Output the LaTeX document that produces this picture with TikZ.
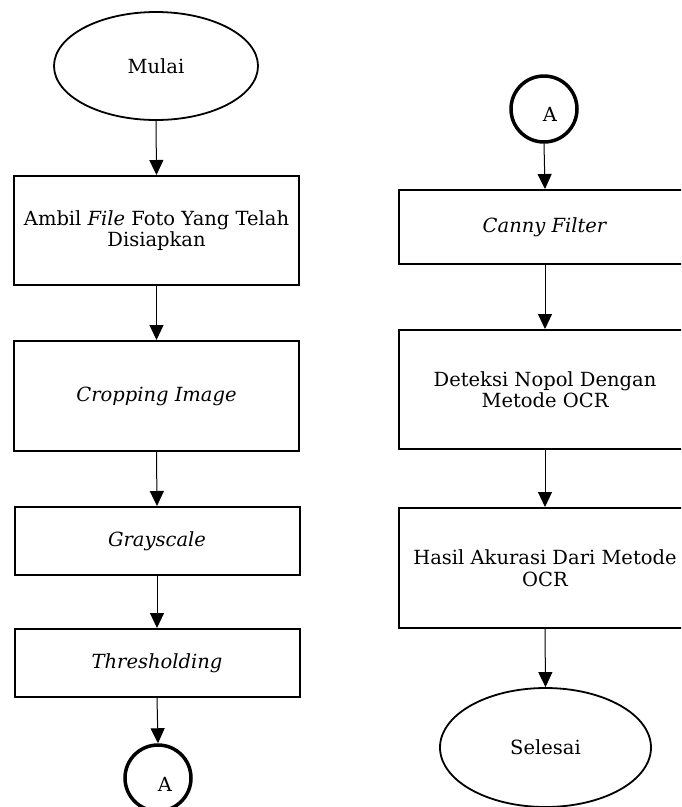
\documentclass[tikz,border=0pt]{standalone}
\usepackage{fontspec}
\setmainfont{DejaVu Serif}
\usetikzlibrary{arrows.meta,shapes.geometric}
\begin{document}
\begin{tikzpicture}[x=1pt,y=-1pt,
  every node/.style={font=\fontsize{19.5}{21.5}\selectfont, align=center},
  term/.style={draw, ellipse, line width=1.8pt, inner sep=0pt},
  proc/.style={draw, rectangle, line width=2pt, inner sep=0pt},
  conn/.style={draw, circle, line width=3.5pt, minimum size=66pt, inner sep=0pt},
  flow/.style={-{Triangle[length=15pt,width=14pt]}, line width=1pt}]
\useasboundingbox (0,0) rectangle (681,807);
\clip (0,0) rectangle (681,807);
% left column
\node[term, minimum width=204pt, minimum height=108pt] (mulai) at (156,66) {Mulai};
\node[proc, minimum width=285pt, minimum height=109pt] (b1) at (156.5,230.5) {Ambil \textit{File} Foto Yang Telah\\Disiapkan};
\node[proc, minimum width=285pt, minimum height=110pt] (b2) at (156.5,396) {\textit{Cropping Image}};
\node[proc, minimum width=285pt, minimum height=68pt] (b3) at (157,541) {\textit{Grayscale}};
\node[proc, minimum width=285pt, minimum height=68pt] (b4) at (157,663) {\textit{Thresholding}};
\node[conn] (a1) at (158,778) {};
\node (a1t) at (165,784) {A};
% right column
\node[conn] (a2) at (544,109) {};
\node (a2t) at (550,114) {A};
\node[proc, minimum width=292pt, minimum height=74pt] (c1) at (545,227) {\textit{Canny Filter}};
\node[proc, minimum width=292pt, minimum height=119pt] (c2) at (545,389.5) {Deteksi Nopol Dengan\\Metode OCR};
\node[proc, minimum width=292pt, minimum height=120pt] (c3) at (545,568) {Hasil Akurasi Dari Metode\\OCR};
\node[term, minimum width=211pt, minimum height=119pt] (sel) at (545.5,747.5) {Selesai};
% connectors
\draw[flow] (mulai.south) -- (b1.north);
\draw[flow] (b1.south) -- (b2.north);
\draw[flow] (b2.south) -- (b3.north);
\draw[flow] (b3.south) -- (b4.north);
\draw[flow] (b4.south) -- (a1.north);
\draw[flow] (a2.south) -- (c1.north);
\draw[flow] (c1.south) -- (c2.north);
\draw[flow] (c2.south) -- (c3.north);
\draw[flow] (c3.south) -- (sel.north);
\end{tikzpicture}
\end{document}
